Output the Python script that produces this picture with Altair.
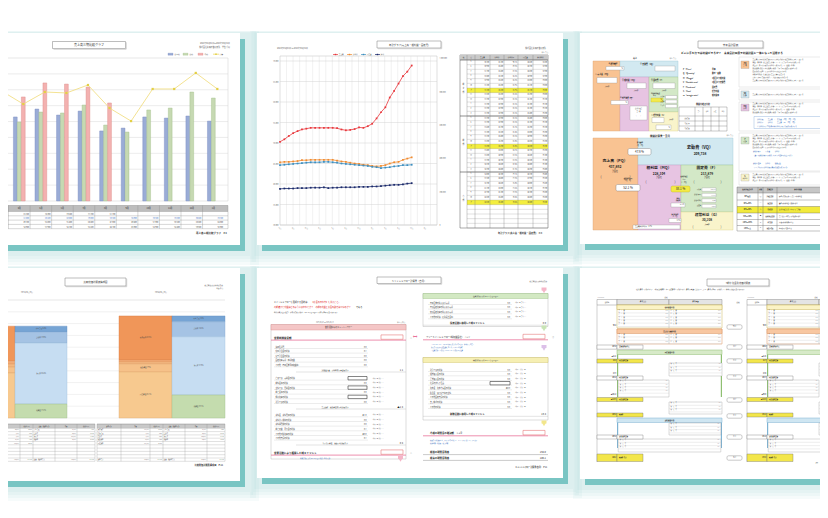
import altair as alt
import pandas as pd

FONT = "Noto Sans CJK JP"

# =====================================================================
# DATA  (values read off the six report thumbnails)
# =====================================================================
# page 1 : 売上高三期比較グラフ  (千円 / 1000)
p1_months = ["3月", "4月", "5月", "6月", "7月", "8月", "9月", "10月", "11月", "12月", "1月"]
p1_current = [78.7, 65.5, 74.3, 73.6, 71.7, 61.7, None, None, None, None, None]
p1_prev = [None, 49.7, 56.0, 55.4, 60.4, 47.8, 43.4, 57.3, 58.5, 68.6, 64.8]
p1_prev2 = [None, 52.9, 57.9, 54.1, 56.6, 44.1, 45.9, 52.9, 52.2, 53.5, 50.3]
p1_target = [69.2, 61.0, 68.6, 68.0, 73.0, 58.5, 50.3, 70.5, 70.5, 80.6, 70.5]
p1_grid = [10, 20, 30, 40, 50, 60, 70, 80]

# page 2 : 年計グラフ (売上高・粗利益・固定費・経常)
p2_sales = [50300, 50900, 51700, 52400, 52900, 53300, 53500, 53700, 53700, 53700, 53700,
            53700, 53700, 53600, 53300, 53100, 53200, 53400, 53800, 53700, 54100, 54700,
            56000, 57500, 58700, 61100, 62700, 64500, 66300, 67400, 68900]
p2_gross = [45300, 45400, 45400, 45500, 45600, 45800, 45800, 45900, 45900, 45900, 45900,
            45900, 45900, 45700, 45500, 45400, 45200, 45000, 44900, 44700, 44600, 44400,
            44300, 44400, 44600, 45000, 45300, 45400, 45900, 46200, 46500]
p2_fixed = [44600, 44700, 44800, 44900, 45000, 45100, 45200, 45300, 45300, 45300, 45400,
            45400, 45300, 45200, 45000, 44900, 44800, 44700, 44600, 44500, 44400, 44200,
            44100, 43900, 44000, 44100, 44300, 44400, 44600, 44600, 44700]
p2_profit = [38800, 38900, 38900, 38900, 39000, 39000, 39000, 39100, 39100, 39100, 39200,
             39000, 39100, 39100, 39200, 39200, 39200, 39200, 39300, 39300, 39300, 39400,
             39400, 39500, 39600, 39700, 39800, 39800, 39900, 40100, 40200]
p2_left_ticks = [30000, 35000, 40000, 45000, 50000, 55000, 60000, 65000, 70000]
p2_right_ticks = [0, 200000, 400000, 600000, 800000, 1000000]
p2_xlabels = ["5月", "8月", "11月", "2月", "5月", "8月", "11月", "2月", "5月", "8月", "11月", "2月"]
p2_sections = ["前々期", "前期", "今期"]
p2_rowlabels = ["5", "6", "7", "8", "9", "10", "計", "11", "12", "1", "2", "3"]

# page 3 : 未来会計図表
p3_pq, p3_vq, p3_mq, p3_f, p3_g = "437,862", "209,758", "228,104", "213,879", "30,208"
p3_vr, p3_mr, p3_bep, p3_gr = "47.9 %", "52.1 %", "88.1 %", "6.9 %"

# page 4 : 比較貸借対照表構成図 (千円)
p4_assets = ["現金預金", "受取手形", "売掛金", "棚卸資産", "固定資産"]
p4_liabs = ["支払手形", "買掛金", "借入金", "純資産"]
p4_prev_assets = [89000, 7500, 7500, 15000, 114500]
p4_prev_liabs = [15000, 28000, 155000, 35500]
p4_cur_assets = [112000, 5000, 5000, 20500, 117000]
p4_cur_liabs = [15000, 38000, 148000, 58500]
p4_grid = [0, 30000, 60000, 90000, 120000, 150000, 180000, 210000, 240000, 270000, 300000]

# page 5 : キャッシュフロー計算書
p5_block1 = ["減価償却費", "貸倒引当金の増減", "賞与引当金の増減", "固定資産売却・除却損益", "その他（有価証券評価損益等）"]
p5_block1_v = ["0.0", "0.1", "0.0", "0.0", "0.0"]
p5_block2 = ["受取手形・売掛金の増減", "前払金等の増減", "支払手形・買掛金の増減", "前受金等の増減", "棚卸資産の増減", "割引手形の増減"]
p5_block2_v = ["", "0.0", "", "0.0", "", "0.0"]
p5_block3 = ["未払金・未払費用の増減", "未払法人税等の増減", "未払消費税の増減", "前受収益・預り金の増減", "その他流動資産の増減", "その他負債の増減"]
p5_block3_v = ["▲1.0", "0.0", "0.0", "0.1", "▲0.0", "0.1"]
p5_inv = ["有価証券の購入及び売却", "有形固定資産の購入及び売却", "無形固定資産の購入及び売却", "その他の増減（保険積立金等）"]
p5_inv_v = ["0.0", "0.0", "0.0", "0.0"]
p5_fin = ["割引手形の増減", "短期借入金の増減", "長期借入金の増減", "社債の発行と償還", "資本金・資本準備金の増減",
          "配当金・役員賞与等の支払", "その他固定負債の増減", "自己株式の増減", "その他の増減"]
p5_fin_v = ["0.0", "0.0", "0.0", "", "▲0.0", "0.0", "0.0", "0.0", "0.0"]
p5_sub = ["1.1", "▲1.4", "0.4"]
p5_totals = ["0.0", "15.4", "164.0", "185.1"]

# page 6 : 7期分 資金別貸借対照表
p6_mid = ["93.2", "13.7", "11.2", "11.2", "13.7", "11.1", "11.1", "16.1"]
p6_left_a = ["94.2", "123.2", "▲11.2", "12.2", "13.3", "125.2", "▲101.2", "▲114.5", "129.2", "129.2", "126.2"]
p6_left_b = ["94.8", "126.2", "▲11.6", "11.3", "13.6", "125.3", "▲99.8", "▲112.0", "131.2", "131.2", "133.0"]

# =====================================================================
# LAYOUT HELPERS  (page pixels -> chart pixels; html page has 8px margin)
# =====================================================================
M = 8
W, H = 812, 502
VIS0, VIS1 = 8.6, 819.4


def S(d0, d1, p0, p1):
    return alt.Scale(domain=[d0, d1], range=[p0 - M, p1 - M], nice=False, zero=False)


def CX():
    return S(8, 820, 8, 820)


def CY():
    return S(8, 510, 8, 510)


rects_bg, rects_fg, rects_top, rounded = [], [], [], []
rules_bg, rules_fg = [], []
texts, tris = [], []


def R(lst, x0, y0, x1, y1, fill="#ffffff", stroke="transparent", sw=0.0, op=1.0):
    lst.append(dict(x=x0, y=y0, x2=x1, y2=y1, fill=fill, stroke=stroke, sw=sw, op=op))


def L(lst, x0, y0, x1, y1, c="#9a9a9a", sw=0.4):
    lst.append(dict(x=x0, y=y0, x2=x1, y2=y1, c=c, sw=sw))


def tw(t, s):
    return sum(s * (0.56 if ord(ch) < 0x2E80 else 1.0) for ch in t)


def T(x, y, t, s=2.0, c="#333333", a="left", b=False):
    w = tw(t, s)
    x0 = x if a == "left" else (x - w / 2 if a == "center" else x - w)
    x1 = x0 + w
    if x1 <= VIS0 or x0 >= VIS1 or x0 < VIS0:
        return
    if x1 > VIS1:
        if a != "left":
            return
        while t and x + tw(t, s) > VIS1:
            t = t[:-1]
        if not t:
            return
    texts.append(dict(x=x, y=y, t=t, s=s, c=c, a=a, b="bold" if b else "normal"))


def TRI(x, y, c, sz=14):
    tris.append(dict(x=x, y=y, c=c, sz=sz))


# ---------------- pages, shadows ----------------
TEAL = "#79c5c3"
pages = [(-30, 33, 240, 245), (257, 33, 563, 245), (580, 33, 860, 244),
         (-30, 268, 240, 481), (257, 268, 563, 478), (580, 268, 860, 479)]
for x0, y0, x1, y1 in pages:
    for e in (14, 11, 8, 5):
        R(rects_bg, x0 - e * 0.5, y0 - e * 0.15, x1 + 5 + e, y1 + 6 + e, TEAL, op=0.07)
for x0, y0, x1, y1 in pages:
    R(rects_bg, x0 + 5, y0 + 6, x1 + 5, y1 + 6, TEAL)
for x0, y0, x1, y1 in pages:
    R(rects_bg, x0, y0, x1, y1, "#ffffff")


def title_box(x0, y0, x1, y1, text, size):
    R(rects_fg, x0, y0, x1, y1, "#ffffff", "#7a7a7a", 0.5)
    L(rules_fg, x0 + 1, y1 + 0.7, x1 + 0.7, y1 + 0.7, "#c4c4c4", 0.8)
    L(rules_fg, x1 + 0.7, y0 + 0.8, x1 + 0.7, y1 + 0.7, "#c4c4c4", 0.8)
    T((x0 + x1) / 2, (y0 + y1) / 2 + 0.2, text, size, "#333333", "center")


# =====================================================================
# PAGE 1  – bar chart
# =====================================================================
BAR_F = {"前々期": "#9aacd6", "前期": "#c6d9b2", "今期": "#f3b1b0"}
BAR_S = {"前々期": "#7689bf", "前期": "#9ebd85", "今期": "#dc8583"}
title_box(52.5, 41.5, 125.5, 48.5, "売上高三期比較グラフ", 3.0)
T(230, 43.6, "2024年04月01日～2025年03月31日", 1.9, "#555555", "right")
T(230, 47.4, "株式会社未来経営研究所　単位:千円", 1.9, "#555555", "right")
lx = 168
for name, kind in [("前々期", "bar"), ("前期", "bar"), ("今期", "bar"), ("目標", "line")]:
    if kind == "bar":
        R(rects_fg, lx, 53.2, lx + 5, 55.2, BAR_F[name], BAR_S[name], 0.3)
    else:
        L(rules_fg, lx, 54.2, lx + 6, 54.2, "#efd963", 0.8)
        R(rects_top, lx + 2.2, 53.4, lx + 3.8, 55.0, "#e3d04a")
    T(lx + 6.5, 54.3, name, 1.7, "#555555")
    lx += 15
R(rects_fg, -30, 58, 228, 201, "#ffffff", "#cfcfcf", 0.5)


def c1(k):
    return 19.3 + 21.56 * (k - 1)


RH1 = 4.3
R(rects_fg, -30, 205.5, 228, 211.5, "#bdbdbd")
L(rules_fg, -30, 205.5, 228, 205.5, "#888888", 0.45)
for r in range(5):
    L(rules_fg, -30, 211.5 + r * RH1, 228, 211.5 + r * RH1, "#8c8c8c", 0.35)
for k in range(12):
    xb = c1(k) - 10.78 if k < 11 else 228
    L(rules_fg, xb, 205.5, xb, 211.5 + 4 * RH1, "#8c8c8c", 0.35)
for k in range(11):
    T(c1(k), 208.6, p1_months[k], 2.0, "#222222", "center")
    for r, v in enumerate([p1_current[k], p1_target[k], p1_prev[k], p1_prev2[k]]):
        if v is not None:
            T(c1(k) + 9.6, 213.7 + RH1 * r, f"{v * 1000:,.0f}", 1.8,
              "#2e63c0" if r == 1 else "#333333", "right")
T(227, 233, "売上高三期比較グラフ　P.1", 2.5, "#333333", "right", True)

# =====================================================================
# PAGE 2  – moving-annual-total line chart + table
# =====================================================================
title_box(377, 41, 441, 48, "年計グラフ(売上高・粗利益・固定費)", 2.4)
T(277, 48.3, "2024年05月01日 ～ 2025年05月31日", 1.9, "#555555")
T(546, 48.3, "株式会社未来経営研究所", 1.9, "#555555", "right")
lx = 333
for name, col in [("売上高", "#e8383d"), ("粗利益", "#f08c32"), ("固定費", "#3d8fc0"), ("経常", "#1b2a6b")]:
    L(rules_fg, lx, 54.5, lx + 5, 54.5, col, 0.7)
    R(rects_top, lx + 1.8, 53.8, lx + 3.2, 55.2, col)
    T(lx + 5.8, 54.6, name, 1.6, "#555555")
    lx += 14
R(rects_fg, 280, 56, 437, 225, "#ffffff", "#bdbdbd", 0.5)
for j in range(1, 24):
    xg = 280 + j * 157 / 24
    L(rules_bg, xg, 56, xg, 225, "#dcdcdc", 0.4)

# table
TX = [460, 467, 475, 490, 504, 518, 533, 548]
RH2 = 56 / 12
R(rects_fg, 460, 55, 548, 228, "#ffffff", "#555555", 0.5)
R(rects_fg, 460, 55, 548, 60, "#c9c9c9")
for s in range(3):
    R(rects_fg, 467, 60 + s * 56 + 6 * RH2, 548, 60 + s * 56 + 7 * RH2, "#f3ee3e")
for r in range(1, 37):
    yy = 60 + r * RH2
    L(rules_fg, 467, yy, 548, yy, "#9a9a9a", 0.3)
for yy in (60, 116, 172):
    L(rules_fg, 460, yy, 548, yy, "#444444", 0.6)
for xx in TX[1:-1]:
    L(rules_fg, xx, 55, xx, 228, "#777777", 0.35)
for xx, name in zip([463.5, 471, 482.5, 497, 511, 525.5, 540.5],
                    ["期", "月", "売上高", "粗利益", "粗利益率", "固定費", "経常利益"]):
    T(xx, 57.6, name, 1.6, "#222222", "center")
T(548, 52.5, "単位:千円", 1.5, "#555555", "right")
di = 0
for s in range(3):
    for ci, ch in enumerate(p2_sections[s]):
        T(463.5, 60 + s * 56 + 24 + ci * 4, ch, 1.8, "#333333", "center")
    for j in range(12):
        yy = 60 + s * 56 + (j + 0.5) * RH2
        if s == 2 and j > 6:
            continue
        T(471, yy, p2_rowlabels[j], 1.6, "#333333", "center")
        ix = di - 1 if j == 6 else di
        vals = [f"{p2_sales[ix]:,}", f"{p2_gross[ix]:,}",
                f"{p2_gross[ix] / p2_sales[ix] * 100:.1f}%", f"{p2_fixed[ix]:,}", f"{p2_profit[ix]:,}"]
        for xx, v in zip(TX[3:], vals):
            T(xx - 0.8, yy, v, 1.55, "#333333", "right")
        if j != 6:
            di += 1
T(542, 232.5, "年計グラフ(売上高・粗利益・固定費)　P.4", 2.3, "#333333", "right", True)

# =====================================================================
# PAGE 3  – 未来会計図表
# =====================================================================
title_box(698, 41, 763, 48, "未来会計図表", 2.6)
T(732, 53, "どこに手を打てば利益がでるか？　未来会計図表で利益計画と一体となって活用する", 2.7, "#222222", "center", True)
T(635, 58.7, "売上", 2.0, "#333333", "center", True)
T(676, 58.7, "単位:千円", 1.5, "#555555", "right")
OR, BL, PK, GR, YL = "#f9c392", "#d2e9f1", "#e7c4e2", "#d3e8c7", "#f9f4cb"
R(rects_fg, 593, 61, 620, 131, OR, "#dca272", 0.4)
R(rects_fg, 620, 61, 678, 77, BL, "#9cc6d6", 0.4)
R(rects_fg, 620, 77, 649, 131, PK, "#c69ac0", 0.4)
R(rects_fg, 649, 77, 678, 112, GR, "#9fc78a", 0.4)
R(rects_fg, 649, 112, 678, 131, YL, "#d8cf8a", 0.4)
T(613, 62.5, "⑧ 変動費率", 1.7, "#222222", "center", True)
T(613, 65, "(VQ÷PQ)", 1.5, "#222222", "center")
R(rects_top, 606, 66.5, 624, 70, "#ffffff", "#888888", 0.3)
T(623, 68.3, "%", 1.5, "#222222", "right")
T(640, 64, "② 変動費（VQ）", 1.9, "#222222", "left", True)
R(rects_top, 655, 66, 675, 71, "#ffffff", "#888888", 0.3)
T(595, 74.5, "① 売上高（PQ）", 1.9, "#222222", "left", True)
R(rects_top, 597, 77.5, 617, 83, "#ffffff", "#888888", 0.3)
T(607, 86.5, "計画値", 1.5, "#333333", "center")
T(622, 80.5, "③ 粗利益（MQ）", 1.8, "#222222", "left", True)
R(rects_top, 627, 83, 646, 88.5, "#ffffff", "#888888", 0.3)
T(636, 91, "計画値", 1.5, "#333333", "center")
T(620, 96.5, "④ 粗利益率（m）", 1.7, "#222222", "left", True)
T(626, 99, "MQ÷PQ", 1.5, "#222222")
R(rects_top, 611, 100.5, 628, 104.5, "#ffffff", "#888888", 0.3)
T(627, 102.5, "%", 1.5, "#222222", "right")
R(rects_top, 630, 106, 647, 120, "#ffffff", "#888888", 0.3)
T(638.5, 109, "損益分岐点", 1.4, "#333333", "center")
T(638.5, 112, "売上高", 1.4, "#333333", "center")
T(638.5, 116, "(　　　)", 1.4, "#333333", "center")
T(651, 80.5, "⑤ 固定費（F）", 1.8, "#222222", "left", True)
R(rects_top, 653, 83, 675, 88.5, "#ffffff", "#888888", 0.3)
T(664, 91, "計画値", 1.5, "#333333", "center")
T(651, 93.5, "⑥損益分岐点", 1.5, "#222222", "left", True)
T(653, 96, "比率", 1.5, "#222222")
R(rects_top, 651, 98, 663, 102, "#f2ea4c", "#b9a92c", 0.3)
T(662, 100, "%", 1.5, "#222222", "right")
for i, name in enumerate(["人件費", "設備費", "その他"]):
    T(664.5, 97 + i * 4.5, name, 1.4, "#333333", "right")
    R(rects_top, 665.5, 95.5 + i * 4.5, 677, 98.7 + i * 4.5, "#ffffff", "#888888", 0.3)
T(651, 115, "⑦ 経常利益（G）", 1.8, "#222222", "left", True)
R(rects_top, 652, 117.5, 664, 122.5, "#ffffff", "#888888", 0.3)
T(671, 120, "計画値", 1.5, "#333333", "center")
R(rects_top, 656, 125, 671, 129.5, "#ffffff", "#888888", 0.3)
T(670, 127.3, "%", 1.5, "#222222", "right")
legend3 = [("P （Price）", "単価"), ("Q （Quantity）", "数量・客数"), ("M （Margin）", "1個当たり粗利益"),
           ("V （Variable cost）", "1個当たり変動費"), ("F （Fixed cost）", "固定費"),
           ("G （Gain）", "経常利益"), ("m （margin ratio）", "粗利益率")]
for i, (a, b_) in enumerate(legend3):
    T(683, 69 + 4.4 * i, a, 1.75, "#222222", "left", True)
    T(712, 69 + 4.4 * i, b_, 1.75, "#222222", "left", True)
T(703, 104.5, "損益分岐点分析", 2.0, "#222222", "center", True)
for xx in [679, 695, 703, 711, 719, 727]:
    L(rules_fg, xx, 107, xx, 131, "#666666", 0.35)
for yy in [107, 116, 121, 126, 131]:
    L(rules_fg, 679, yy, 727, yy, "#666666", 0.35)
for i, name in enumerate(["前期実績", "今期計画", "今期実績"]):
    T(687, 118.5 + 5 * i, name, 1.3, "#333333", "center")
for xx, name in zip([699, 707, 715, 723], ["売上", "粗利", "固定", "利益"]):
    T(xx, 111.5, name, 1.3, "#333333", "center")
# lower diagram
T(660, 136, "損益計算書ー全月", 2.5, "#222222", "center", True)
T(733, 136, "単位:千円", 1.5, "#555555", "right")
R(rects_fg, 593, 138, 638, 230, OR, "#dca272", 0.4)
R(rects_fg, 638, 138, 733, 165, BL, "#9cc6d6", 0.4)
R(rects_fg, 638, 165, 681, 230, PK, "#c69ac0", 0.4)
R(rects_fg, 681, 165, 733, 212, GR, "#9fc78a", 0.4)
R(rects_fg, 681, 212, 733, 230, YL, "#d8cf8a", 0.4)
T(615, 161, "売上高（PQ）", 3.9, "#222222", "center", True)
T(615, 167, p3_pq, 3.3, "#222222", "center", True)
T(615, 171.5, "計画値", 1.9, "#222222", "center")
T(601, 177, "[", 3.2, "#222222", "center")
T(630, 177, "]", 3.2, "#222222", "center")
T(640, 142.5, "変動費率", 1.6, "#222222", "center", True)
T(640, 145.3, "(VQ÷PQ)", 1.5, "#222222", "center")
rounded.append(dict(x=628, y=148.5, x2=651, y2=155, fill="#ffffff", stroke="#777777"))
T(639.5, 151.9, p3_vr, 2.9, "#222222", "center")
T(700, 147.5, "変動費（VQ）", 4.1, "#222222", "center", True)
T(700, 154, p3_vq, 3.3, "#222222", "center", True)
T(659, 168, "粗利益（MQ）", 3.8, "#222222", "center", True)
T(659, 173.5, p3_mq, 3.2, "#222222", "center", True)
T(659, 177.5, "計画値", 1.8, "#222222", "center")
T(646, 182, "[", 3.0, "#222222", "center")
T(675, 182, "]", 3.0, "#222222", "center")
T(628, 178.5, "粗利益率(m)", 1.5, "#222222", "center", True)
T(628, 181.2, "MQ÷PQ", 1.5, "#222222", "center")
rounded.append(dict(x=616, y=184.5, x2=640, y2=191, fill="#ffffff", stroke="#777777"))
T(628, 187.9, p3_mr, 3.1, "#222222", "center")
T(707, 168, "固定費（F）", 3.8, "#222222", "center", True)
T(707, 173.5, p3_f, 3.2, "#222222", "center", True)
T(707, 177.5, "計画値", 1.8, "#222222", "center")
T(694, 182, "[", 3.0, "#222222", "center")
T(721, 182, "]", 3.0, "#222222", "center")
T(684, 177, "損益分岐点", 1.4, "#222222", "center", True)
T(684, 179.6, "比率", 1.4, "#222222", "center")
T(684, 182.2, "(F÷MQ)", 1.4, "#222222", "center")
rounded.append(dict(x=671, y=186, x2=690, y2=192, fill="#f3ea45", stroke="#c0b02c"))
T(680.5, 189.1, p3_bep, 3.0, "#222222", "center")
for i, (name, val) in enumerate([("人件費", "134,000"), ("労働分配率", "57.3 %"), ("労働生産性", "1,398"), ("設備費", "79,879")]):
    T(701, 189.5 + 5.5 * i, name, 1.4, "#222222", "right")
    R(rects_top, 702, 187.8 + 5.5 * i, 716, 191.3 + 5.5 * i, "#ffffff", "#888888", 0.3)
    T(715.5, 189.6 + 5.5 * i, val, 1.3, "#222222", "right")
T(678, 198.5, "労働", 1.5, "#222222", "center", True)
T(678, 201, "分配率", 1.5, "#222222", "center", True)
R(rects_top, 671, 203, 685, 207, "#ffffff", "#888888", 0.3)
T(684, 205, "57.3%", 1.4, "#222222", "right")
T(707, 215, "経常利益（G）", 3.6, "#222222", "center", True)
T(707, 219.8, p3_g, 3.1, "#222222", "center", True)
T(707, 223.5, "計画値", 1.7, "#222222", "center")
T(693, 227, "[", 2.8, "#222222", "center")
T(721, 227, "]", 2.8, "#222222", "center")
T(675, 214.5, "経常利益率", 1.4, "#222222", "center", True)
T(675, 217, "(G÷PQ)", 1.4, "#222222", "center")
R(rects_top, 669, 218.5, 681, 222.5, "#ffffff", "#888888", 0.3)
T(680.5, 220.5, p3_gr, 1.5, "#222222", "right")
R(rects_top, 633, 225, 680, 229, "#ffffff", "#888888", 0.3)
T(635, 227, "売上高経常利益率　6.9%", 1.5, "#222222")
# right column
sections3 = [((57, 87), (61, 68.5), OR, "PQ", "売上高", [60, 63, 66, 69, 72, 75, 78, 81]),
             ((89, 100), (91, 98), BL, "VQ", "変動費", [94.5]),
             ((102, 131), (104, 111), PK, "MQ", "粗利益", [104, 107, 110, 113]),
             ((133, 171), (137, 144), GR, "F", "固定費", [136, 139, 142, 145, 148]),
             ((172, 185), (174, 181), YL, "G", "経常利益", [175, 178, 181])]
lines3 = ["・売上高の計画は前期実績をもとに市場の動向と販売戦略を反映して立てる",
          "・客数、客単価、購買頻度に分解して、どこに手を打つかを明確にする",
          "・値上げ、値下げの影響を粗利益で確認すること（数量×単価）",
          "・新規顧客の獲得と既存顧客の維持、それぞれの施策を具体化する",
          "・商品構成の見直しにより粗利益率の向上をはかる",
          "・営業担当者別、得意先別の売上目標を設定する",
          "・月次で計画と実績を比較し、差異の原因を分析する"]
for (y0, y1), (b0, b1), col, lab, sub, ys in sections3:
    R(rects_fg, 739, y0, 840, y1, "#ffffff", "#c9c9c9", 0.4)
    R(rects_fg, 741, b0, 749, b1, col, "#999999", 0.3)
    T(745, b0 + 2.4, lab, 1.9, "#222222", "center", True)
    T(745, b0 + 5.3, sub, 1.2, "#222222", "center")
    for i, yy in enumerate(ys):
        T(751, yy, lines3[i % len(lines3)], 1.55, "#444444")
R(rects_fg, 754, 116.5, 840, 128.5, "#ffffff", "#7fa7d6", 0.4)
for yy, t in [(119.5, "粗利益額　＝　売上高　－　変動費　（MQ ＝ PQ － VQ）"),
              (123, "粗利益率　＝　粗利益　÷　売上高　（m ＝ MQ ÷ PQ）"),
              (126.3, "※ 粗利益率の1%改善が経常利益に与える影響を確認する")]:
    T(757, yy, t, 1.55, "#2d5fb8")
for yy, t in [(152, "労働分配率　＝　人件費　÷　粗利益"),
              (155.5, "（適正な労働分配率を維持しながら生産性を向上させる）"),
              (164, "労働生産性　＝　粗利益　÷　従業員数"),
              (167.5, "（一人当たりの粗利益額を高める施策を検討する）")]:
    T(753, yy, t, 1.55, "#2d5fb8")
R(rects_fg, 737, 187, 840, 193, "#c6c6c6")
R(rects_fg, 737, 206.5, 840, 213, "#f2ea3c")
for yy in [187, 193, 200, 206.5, 213, 219.5, 225.5, 231]:
    L(rules_fg, 737, yy, 840, yy, "#666666", 0.4)
for xx in [737, 758, 763, 777]:
    L(rules_fg, xx, 187, xx, 231, "#666666", 0.4)
for xx, t in [(747.5, "損益分岐点比率"), (760.5, "評価"), (770, "企業区分"), (798, "経営の状態")]:
    T(xx, 190, t, 1.5, "#222222", "center", True)
bep_rows = [("60%未満", "◎", "超優良企業", "景気の変動に強い安定した経営状態"),
            ("60%〜80%", "○", "優良企業", "健全な経営状態で余裕がある"),
            ("80%〜90%", "△", "普通企業", "損益分岐点に近づかないよう注意"),
            ("90%〜100%", "▲", "損益分岐点企業", "売上減少で赤字になる危険がある"),
            ("100%〜105%", "×", "赤字企業", "早急な経営改善が必要"),
            ("105%以上", "×", "倒産予備軍", "抜本的な対策が必要")]
for i, (a, b_, c_, d_) in enumerate(bep_rows):
    yy = [196.5, 203.3, 209.8, 216.3, 222.5, 228.3][i]
    T(747.5, yy, a, 1.45, "#222222", "center", True)
    T(760.5, yy, b_, 1.6, "#222222", "center", True)
    T(770, yy, c_, 1.3, "#222222", "center", True)
    T(779, yy, d_, 1.45, "#222222")

# =====================================================================
# PAGE 4  – stacked composition blocks + tables
# =====================================================================
title_box(65, 278, 126, 286, "比較貸借対照表構成図", 2.4)
T(223, 284.5, "株式会社未来経営研究所", 1.7, "#555555", "right")
T(223, 288.5, "単位:千円", 1.6, "#555555", "right")
T(27, 293, "2023年04月30日", 1.6, "#555555", "center")
T(161, 293, "2024年04月30日", 1.6, "#555555", "center")
L(rules_bg, -30, 300, 225, 300, "#e6e6e6", 0.5)
ACOL = ["#f09659", "#f3ac76", "#f5b982", "#f6c189", "#f7c98f"]
ASTR = ["#d87a3e", "#d98c55", "#dc9a63", "#dca069", "#dca66f"]
LCOL = ["#76a4d4", "#a5c3e4", "#c6ddf2", "#c4dcae"]
LSTR = ["#5f8dbf", "#85a8cf", "#9fc0dd", "#9fbe88"]
T4 = [(-33, [0, 24, 53, 66, 88, 110, 128]), (97, [0, 24, 53, 66, 88, 110, 128])]
RH4 = 3.3
for (tx, cols), assets, liabs in zip(T4, [p4_prev_assets, p4_cur_assets], [p4_prev_liabs, p4_cur_liabs]):
    x = [tx + c for c in cols]
    R(rects_fg, x[0], 424, x[-1], 428.3, "#c9c9c9")
    for r in range(11):
        L(rules_fg, x[0], 428.3 + r * RH4, x[-1], 428.3 + r * RH4, "#9a9a9a", 0.3)
    L(rules_fg, x[0], 424, x[-1], 424, "#777777", 0.4)
    for xx in x:
        L(rules_fg, xx, 424, xx, 428.3 + 10 * RH4, "#8a8a8a", 0.3)
    for xx, t in zip([(x[0] + x[1]) / 2, (x[1] + x[2]) / 2, (x[2] + x[3]) / 2,
                      (x[3] + x[4]) / 2, (x[4] + x[5]) / 2, (x[5] + x[6]) / 2],
                     ["資産の部", "金額", "構成比(%)", "負債・純資産の部", "金額", "構成比(%)"]):
        T(xx, 426.2, t, 1.35, "#222222", "center")
    ta, tl = sum(assets), sum(liabs)
    for i, (n, v) in enumerate(zip(p4_assets, assets)):
        yy = 430 + i * RH4
        T(x[0] + 1, yy, n, 1.35, "#222222")
        T(x[2] - 1, yy, f"{v:,}", 1.35, "#222222", "right")
        T(x[3] - 1, yy, f"{v / ta * 100:.1f}%", 1.35, "#222222", "right")
    for i, (n, v) in enumerate(zip(p4_liabs, liabs)):
        yy = 430 + i * RH4
        T(x[3] + 1, yy, n, 1.35, "#222222")
        T(x[5] - 1, yy, f"{v:,}", 1.35, "#222222", "right")
        T(x[6] - 1, yy, f"{v / tl * 100:.1f}%", 1.35, "#222222", "right")
    yy = 430 + 9 * RH4
    T(x[0] + 1, yy, "資産合計", 1.35, "#222222")
    T(x[2] - 1, yy, f"{ta:,}", 1.35, "#222222", "right")
    T(x[3] - 1, yy, "100.0%", 1.35, "#222222", "right")
    T(x[3] + 1, yy, "負債・純資産合計", 1.35, "#222222")
    T(x[5] - 1, yy, f"{tl:,}", 1.35, "#222222", "right")
    T(x[6] - 1, yy, "100.0%", 1.35, "#222222", "right")
T(223, 464.5, "比較貸借対照表構成図　P.11", 2.2, "#333333", "right", True)

# =====================================================================
# PAGE 5  – cash-flow statement
# =====================================================================
title_box(377, 277, 441, 283.5, "キャッシュフロー計算書（自月）", 2.3)
T(547, 282, "株式会社未来経営研究所", 1.6, "#555555", "right")
T(274, 302, "キャッシュフローを理解する目的は、", 2.1, "#222222")
T(311.5, 302, "【お金の流れ方】を学ぶこと。", 2.1, "#e02020")
T(274, 307.5, "今期儲けた利益はどのように使われたか？　今期の利益とお金の動きは何なのか？", 2.1, "#e02020")
T(356, 307.5, "である", 2.1, "#222222")
T(274, 312.5, "利益は会計上の数字、お金は実際の動き。キャッシュフローでお金の流れを読み取ります", 1.6, "#333333")
T(325, 322.3, "2024/05/01 ～ 2025/05/31", 1.5, "#555555", "center")
T(405, 322.3, "単位:百万円", 1.5, "#555555", "right")
R(rects_fg, 271, 324.5, 406, 459, "#ffffff", "#a8a8a8", 0.4)
R(rects_fg, 271, 324.5, 406, 330, "#f4c6c6", "#d98c8c", 0.4)
T(338.5, 327.4, "営業活動によるキャッシュフロー", 1.8, "#333333", "center")
PINK = "#e8739a"
for yy, label, circ in [(337.5, "営業純損益金額", "①"), (452.5, "営業活動により獲得した純キャッシュ", "①")]:
    T(274, yy, label, 2.5, "#222222", "left", True)
    L(rules_fg, 271, yy + 2.6, 406, yy + 2.6, PINK, 0.8)
    R(rects_top, 381, yy - 2.6, 403, yy + 1.8, "#ffffff", "#e06060", 0.5)
    T(411, yy, circ, 2.2, "#555555", "center")
for blk, vals, ys in [(p5_block1, p5_block1_v, [346.7, 351.3, 355.7, 360.3, 365]),
                      (p5_block2, p5_block2_v, [378.3, 383, 387.7, 392.3, 397, 401.7]),
                      (p5_block3, p5_block3_v, [415, 419.7, 424.3, 429, 433.7, 438.3])]:
    for name, v, yy in zip(blk, vals, ys):
        T(275.5, yy, name, 1.75, "#333333")
        L(rules_fg, 274, yy + 1.8, 368, yy + 1.8, "#c8c8c8", 0.35)
        if v:
            T(366.5, yy, v, 1.75, "#333333", "right")
        else:
            R(rects_top, 348, yy - 1.8, 367, yy + 1.6, "#ffffff", "#333333", 0.6)
        if blk is not p5_block1:
            T(372.5, yy, "(増加→▲ 減少→+)", 1.3, "#555555")
for yy, label, v in [(370, "減価償却費・引当金等の調整額合計", p5_sub[0]),
                     (407, "売上債権・棚卸資産等の増減額合計", p5_sub[1]),
                     (443, "その他の資産・負債の増減額合計", p5_sub[2])]:
    T(335, yy, label, 1.7, "#333333", "center")
    T(403, yy, v, 2.4, "#222222", "right")
    L(rules_fg, 296, yy + 2, 406, yy + 2, "#b0b0b0", 0.35)
T(300, 458.3, "営業活動によるキャッシュの増減（利益の質）", 1.5, "#2d5fb8")
# right side
R(rects_fg, 423, 293.5, 548, 326.5, "#ffffff", "#a8a8a8", 0.4)
R(rects_fg, 423, 293.5, 548, 298.5, "#d3e9c3", "#93bd78", 0.4)
T(485.5, 296.1, "投資活動によるキャッシュフロー", 1.7, "#333333", "center")
for name, v, yy in zip(p5_inv, p5_inv_v, [302.7, 307.3, 312, 317]):
    T(430, yy, name, 1.75, "#333333")
    T(510, yy, v, 1.75, "#333333", "right")
    T(515, yy, "(増加→▲ 売却→+)", 1.3, "#555555")
    L(rules_fg, 428, yy + 1.8, 512, yy + 1.8, "#c8c8c8", 0.35)
T(450, 323, "投資活動に使用した純キャッシュ", 2.3, "#222222", "left", True)
T(546, 323, p5_totals[0], 2.4, "#222222", "right")
L(rules_fg, 423, 325.2, 548, 325.2, "#b0b0b0", 0.35)
T(415, 337, "⟷", 3.2, PINK, "center")
T(426, 337, "フリーキャッシュフロー(純損益会社)　①+②", 2.2, "#222222")
L(rules_fg, 423, 339.8, 548, 339.8, PINK, 0.8)
R(rects_top, 523, 334.3, 545, 338.8, "#ffffff", "#e06060", 0.5)
T(553, 337, "③", 2.2, "#555555", "center")
for yy, t in [(344.6, "フリーキャッシュフローが自由に使えるお金を表す（経営の安全度）"),
              (347.8, "借入金の返済や設備投資に充てることができる資金"),
              (351, "「投資活動」で使用したキャッシュは将来への投資")]:
    T(431, yy, t, 1.4, "#2d5fb8")
R(rects_fg, 423, 357.5, 548, 420, "#ffffff", "#a8a8a8", 0.4)
R(rects_fg, 423, 357.5, 548, 362.5, "#f6efb3", "#cdbd59", 0.4)
T(485.5, 360.1, "財務活動によるキャッシュフロー", 1.7, "#333333", "center")
for name, v, yy in zip(p5_fin, p5_fin_v, [369.7, 374, 378.7, 383.3, 388, 392.7, 397.3, 402, 406.7]):
    T(430, yy, name, 1.75, "#333333")
    if v:
        T(510, yy, v, 1.75, "#333333", "right")
    else:
        R(rects_top, 490, yy - 1.8, 510, yy + 1.6, "#ffffff", "#333333", 0.6)
    T(515, yy, "(増加→+ 減少→▲)", 1.3, "#555555")
    L(rules_fg, 428, yy + 1.8, 512, yy + 1.8, "#c8c8c8", 0.35)
T(450, 414, "財務活動に使用した純キャッシュ", 2.3, "#222222", "left", True)
T(546, 414, p5_totals[1], 2.4, "#222222", "right")
L(rules_fg, 423, 416.3, 548, 416.3, "#b0b0b0", 0.35)
T(430, 433, "今期の現預金の増減額　①+②", 2.4, "#222222", "left", True)
L(rules_fg, 423, 435.8, 548, 435.8, PINK, 0.8)
R(rects_top, 523, 430.4, 545, 434.9, "#ffffff", "#e06060", 0.5)
T(430, 440.7, "現預金の増減額がプラスならお金が増えた、マイナスなら減ったことを表す", 1.4, "#2d5fb8")
T(430, 443.7, "期首残高＋増減額＝期末残高", 1.4, "#2d5fb8")
T(430, 452, "期首の現預金残高", 2.4, "#222222", "left", True)
T(546, 452, p5_totals[2], 2.5, "#222222", "right")
L(rules_fg, 423, 454.6, 548, 454.6, "#b5b5b5", 0.7)
T(430, 457.8, "期末の現預金残高", 2.4, "#222222", "left", True)
T(546, 457.8, p5_totals[3], 2.5, "#222222", "right")
L(rules_fg, 423, 460.4, 548, 460.4, "#b5b5b5", 0.7)
T(547, 467.5, "キャッシュフロー計算書(自月)　P.11", 1.9, "#333333", "right", True)
for xx, yy, col in [(544, 290.5, "#f5b6c8"), (544, 328.5, "#c8e4b5"), (544, 348, "#dcc0e8"),
                    (544, 423.5, "#f2e68c"), (400.5, 459, "#f5b6c8")]:
    R(rects_top, xx - 2.5, yy - 3, xx + 2.5, yy, col)
    TRI(xx, yy + 1, col, 16)

# =====================================================================
# PAGE 6  – 7期分 資金別貸借対照表
# =====================================================================
title_box(707, 279, 769, 286, "7期分 資金別貸借対照表", 2.3)
T(635, 289.5, "「損益資金」の動きから、「増加運転資金」や「設備資金」の動きなど、資金の調達と運用のバランス（資金の流れ）を比較して、経営の課題を読み取ります", 1.55, "#333333")


def p6_block(dx, vals):
    X0, X1, X2, X3 = 597 + dx, 617 + dx, 669 + dx, 722 + dx
    T(X0 + 0.5, 297.3, "2024/04/30", 1.3, "#444444")
    T(X2 - 3, 297.3, "前期", 1.5, "#333333", "center")
    R(rects_fg, X0, 299.5, X1, 305, "#ffffff", "#777777", 0.4)
    R(rects_fg, X1, 299.5, X2, 305, "#e4e4e4", "#777777", 0.4)
    R(rects_fg, X2, 299.5, X3, 305, "#e4e4e4", "#777777", 0.4)
    T((X0 + X1) / 2, 302.3, "前年比", 1.5, "#222222", "center")
    T((X1 + X2) / 2, 302.3, "資金運用", 1.6, "#222222", "center")
    T((X2 + X3) / 2, 302.3, "資金調達", 1.6, "#222222", "center")
    L(rules_fg, X0, 305, X0, 462, "#888888", 0.4)
    sec = [(305, 328, "#fbf3c6", "#c9b55a", "損益資金の部"),
           (329, 344, "#f8c7a1", "#d9925e", "売上仕入債務の部")]
    for y0, y1, f, s, name in sec:
        R(rects_fg, X1, y0, X3, y1, "#ffffff", s, 0.5)
        R(rects_fg, X1, y0, X3, y0 + 4.5, f, s, 0.5)
        T((X1 + X3) / 2, y0 + 2.4, name, 1.6, "#222222", "center", True)
        L(rules_fg, X2, y0 + 4.5, X2, y1, "#999999", 0.35)
        n = int((y1 - y0 - 4.5) / 3.4)
        for r in range(1, n + 1):
            yy = y0 + 4.5 + r * 3.4
            L(rules_fg, X1 + 1, yy, X3 - 1, yy, "#c4c4c4", 0.3)
            T(X1 + 1.5, yy - 1.6, "売　上　高", 1.25, "#333333")
            T(X2 - 1, yy - 1.6, "12.5", 1.25, "#333333", "right")
            T(X2 + 1.5, yy - 1.6, "仕　入　高", 1.25, "#333333")
            T(X3 - 1.5, yy - 1.6, "10.3", 1.25, "#333333", "right")
    for y0, y1, f, s, name in [(350, 397, "#d7eac8", "#8fbf72", "固定資金の部"),
                               (418, 448, "#cfe6f2", "#7fb3d3", "運転資金の部")]:
        R(rects_fg, X1, y0, X3, y0 + 4.5, f, s, 0.5)
        T((X1 + X3) / 2, y0 + 2.4, name, 1.6, "#222222", "center", True)
        R(rects_fg, X1, y0 + 4.5, X1 + 1.2, y1, s)
        R(rects_fg, X3 - 1.2, y0 + 4.5, X3, y1, s)
    for xa, xb, y0, y1 in [(X2, X3, 363, 376), (X1 + 1.2, X2, 380, 397), (X2, X3, 402, 414),
                           (X2, X3 - 1.2, 423, 435), (X1 + 1.2, X3 - 1.2, 439, 452)]:
        R(rects_fg, xa, y0, xb, y1, "#ffffff", "#9a9a9a", 0.35)
        yy = y0 + 3.3
        while yy < y1 - 0.5:
            L(rules_fg, xa, yy, xb, yy, "#c4c4c4", 0.3)
            T(xa + 1.5, yy - 1.6, "借　入　金", 1.25, "#333333")
            T(xb - 1.5, yy - 1.6, "3.2", 1.25, "#333333", "right")
            yy += 3.3
    cells = [(345, 349.2, "#ffffff", "差額 資金過不足"), (359, 363, "#f3e64a", "固定 資金差額"),
             (376, 380, "#ffffff", "固定 資金差額"), (397.5, 401.5, "#f3e64a", "固定 資金差額"),
             (413, 417, "#f3e64a", "現預金"), (435, 439, "#ffffff", "運転 資金差額"),
             (454, 461.5, "#f3e64a", "現預金 合計")]
    for i, (y0, y1, f, lab) in enumerate(cells):
        R(rects_top, X0, y0, X1, y1, f, "#777777", 0.4)
        R(rects_top, X1, y0, X1 + 26, y1, f, "#777777", 0.4)
        T(X1 + 2, (y0 + y1) / 2, lab, 1.45, "#222222", "left", True)
        T(X1 - 1, (y0 + y1) / 2, vals[[1, 3, 5, 7, 8, 9, 10][i]], 1.45, "#222222", "right", True)
    for yy, vi in [(326, 0), (356.5, 2), (373.5, 4), (394.5, 6)]:
        T(X1 - 1, yy, vals[vi], 1.45, "#222222", "right", True)


p6_block(0, p6_left_a)
p6_block(150, p6_left_b)
for v, yy in zip(p6_mid, [327, 347, 361, 377, 400, 416, 437, 458]):
    rounded.append(dict(x=727, y=yy - 2.2, x2=742, y2=yy + 2.2, fill="#ffffff", stroke="#777777"))
    T(734.5, yy, v, 1.6, "#222222", "center")
T(738, 303, "前期", 1.6, "#333333", "center")
T(818, 463.5, "P.9", 1.6, "#333333", "right")

# =====================================================================
# LAYER BUILDERS
# =====================================================================


def rect_layer(rows, **kw):
    df = pd.DataFrame(rows)
    return alt.Chart(df).mark_rect(clip=True, **kw).encode(
        x=alt.X("x:Q", scale=CX(), axis=None), x2="x2:Q",
        y=alt.Y("y:Q", scale=CY(), axis=None), y2="y2:Q",
        fill=alt.Fill("fill:N", scale=None),
        stroke=alt.Stroke("stroke:N", scale=None),
        strokeWidth=alt.StrokeWidth("sw:Q", scale=None),
        opacity=alt.Opacity("op:Q", scale=None))


def rule_layer(rows):
    df = pd.DataFrame(rows)
    return alt.Chart(df).mark_rule(clip=True).encode(
        x=alt.X("x:Q", scale=CX(), axis=None), x2="x2:Q",
        y=alt.Y("y:Q", scale=CY(), axis=None), y2="y2:Q",
        color=alt.Color("c:N", scale=None),
        strokeWidth=alt.StrokeWidth("sw:Q", scale=None))


def text_layers(rows):
    df = pd.DataFrame(rows)
    out = []
    for a in ["left", "center", "right"]:
        for b in ["normal", "bold"]:
            sub = df[(df.a == a) & (df.b == b)].reset_index(drop=True)
            if len(sub) == 0:
                continue
            out.append(alt.Chart(sub).mark_text(align=a, baseline="middle", font=FONT,
                                                fontWeight=b, clip=True).encode(
                x=alt.X("x:Q", scale=CX(), axis=None),
                y=alt.Y("y:Q", scale=CY(), axis=None),
                text="t:N",
                size=alt.Size("s:Q", scale=None),
                color=alt.Color("c:N", scale=None)))
    return out


# ---------------- page 1 data layers ----------------
p1X = lambda: S(0, 10, c1(0), c1(10))
p1Y = lambda: S(0, 90, 201, 58)
g1 = pd.DataFrame({"g": p1_grid, "xa": -30, "xb": 228})
grid1 = alt.Chart(g1).mark_rule(color="#d4d4d4", strokeWidth=0.45, clip=True).encode(
    x=alt.X("xa:Q", scale=CX(), axis=None), x2="xb:Q",
    y=alt.Y("g:Q", scale=p1Y(), axis=None))
brows = []
HALF = 0.088
for name, vals, off in [("前々期", p1_prev2, -0.185), ("前期", p1_prev, 0.0), ("今期", p1_current, 0.185)]:
    for k, v in enumerate(vals):
        if v is not None:
            brows.append(dict(xa=k + off - HALF, xb=k + off + HALF, v=v, base=0,
                              f=BAR_F[name], s=BAR_S[name]))
bars1 = alt.Chart(pd.DataFrame(brows)).mark_rect(clip=True, strokeWidth=0.4).encode(
    x=alt.X("xa:Q", scale=p1X(), axis=None), x2="xb:Q",
    y=alt.Y("v:Q", scale=p1Y(), axis=None), y2="base:Q",
    fill=alt.Fill("f:N", scale=None), stroke=alt.Stroke("s:N", scale=None))
tdf = pd.DataFrame({"xp": [k + 0.185 for k in range(11)], "v": p1_target})
tline = alt.Chart(tdf).mark_line(color="#f2df86", strokeWidth=0.9, clip=True).encode(
    x=alt.X("xp:Q", scale=p1X(), axis=None), y=alt.Y("v:Q", scale=p1Y(), axis=None))
tpts = alt.Chart(tdf).mark_point(shape="square", filled=True, size=5, color="#e3cf45",
                                 opacity=1, clip=True).encode(
    x=alt.X("xp:Q", scale=p1X(), axis=None), y=alt.Y("v:Q", scale=p1Y(), axis=None))

# ---------------- page 2 data layers ----------------
p2X = lambda: S(0, 30, 280, 280 + 4.39 * 30)
p2Y = lambda: S(30000, 70000, 225, 61)
p2YR = lambda: S(0, 1000000, 225, 58.3)
g2 = pd.DataFrame({"g": p2_left_ticks, "xa": 280, "xb": 437, "xl": 278.5,
                   "lab": [f"{v:,}" for v in p2_left_ticks]})
grid2 = alt.Chart(g2).mark_rule(color="#d0d0d0", strokeWidth=0.45, clip=True).encode(
    x=alt.X("xa:Q", scale=CX(), axis=None), x2="xb:Q",
    y=alt.Y("g:Q", scale=p2Y(), axis=None))
lab2 = alt.Chart(g2).mark_text(align="right", baseline="middle", font=FONT, fontSize=1.7,
                               color="#555555", clip=True).encode(
    x=alt.X("xl:Q", scale=CX(), axis=None), y=alt.Y("g:Q", scale=p2Y(), axis=None), text="lab:N")
g2r = pd.DataFrame({"g": p2_right_ticks, "xl": 439.5, "lab": [f"{v:,}" for v in p2_right_ticks]})
lab2r = alt.Chart(g2r).mark_text(align="left", baseline="middle", font=FONT, fontSize=1.7,
                                 color="#555555", clip=True).encode(
    x=alt.X("xl:Q", scale=CX(), axis=None), y=alt.Y("g:Q", scale=p2YR(), axis=None), text="lab:N")
g2x = pd.DataFrame({"i": [3 * j for j in range(12)], "yl": 228.8, "lab": p2_xlabels})
lab2x = alt.Chart(g2x).mark_text(align="center", baseline="middle", font=FONT, fontSize=1.6,
                                 color="#555555", clip=True).encode(
    x=alt.X("i:Q", scale=p2X(), axis=None), y=alt.Y("yl:Q", scale=CY(), axis=None), text="lab:N")
lrows = []
for name, vals, col in [("売上高", p2_sales, "#e8383d"), ("粗利益", p2_gross, "#f08c32"),
                        ("固定費", p2_fixed, "#3d8fc0"), ("経常", p2_profit, "#1b2a6b")]:
    for i, v in enumerate(vals):
        lrows.append(dict(i=i, v=v, name=name, col=col))
ldf = pd.DataFrame(lrows)
lines2 = alt.Chart(ldf).mark_line(strokeWidth=0.8, clip=True).encode(
    x=alt.X("i:Q", scale=p2X(), axis=None), y=alt.Y("v:Q", scale=p2Y(), axis=None),
    color=alt.Color("col:N", scale=None), detail="name:N")
pts2 = alt.Chart(ldf).mark_point(shape="square", filled=True, size=3, opacity=1, clip=True).encode(
    x=alt.X("i:Q", scale=p2X(), axis=None), y=alt.Y("v:Q", scale=p2Y(), axis=None),
    color=alt.Color("col:N", scale=None))

# ---------------- page 4 data layers ----------------
p4Y = lambda: S(0, 300000, 418, 300)
g4 = pd.DataFrame({"g": p4_grid, "xa": -30, "xb": 225})
grid4 = alt.Chart(g4).mark_rule(color="#e2e2e2", strokeWidth=0.5, clip=True).encode(
    x=alt.X("xa:Q", scale=CX(), axis=None), x2="xb:Q",
    y=alt.Y("g:Q", scale=p4Y(), axis=None))
srows = []
for (xa, xb, xc), assets, liabs in [((-38, 15, 67), p4_prev_assets, p4_prev_liabs),
                                     ((119, 172, 225), p4_cur_assets, p4_cur_liabs)]:
    for names, vals, cols, strs, x0, x1 in [(p4_assets, assets, ACOL, ASTR, xa, xb),
                                            (p4_liabs, liabs, LCOL, LSTR, xb, xc)]:
        tot = sum(vals)
        top = tot
        for n, v, c, s in zip(names, vals, cols, strs):
            show = v / tot > 0.04 and x0 > 0
            srows.append(dict(x0=x0, x1=x1, y0=top - v, y1=top, ym=top - v / 2, xm=(x0 + x1) / 2,
                              f=c, s=s, lab=f"{n} {v / tot * 100:.1f}%" if show else ""))
            top -= v
sdf = pd.DataFrame(srows)
stacks4 = alt.Chart(sdf).mark_rect(clip=True, strokeWidth=0.4).encode(
    x=alt.X("x0:Q", scale=CX(), axis=None), x2="x1:Q",
    y=alt.Y("y0:Q", scale=p4Y(), axis=None), y2="y1:Q",
    fill=alt.Fill("f:N", scale=None), stroke=alt.Stroke("s:N", scale=None))
slabs4 = alt.Chart(sdf[sdf.lab != ""]).mark_text(font=FONT, fontSize=1.6, color="#444444",
                                                   clip=True).encode(
    x=alt.X("xm:Q", scale=CX(), axis=None), y=alt.Y("ym:Q", scale=p4Y(), axis=None), text="lab:N")

# ---------------- triangles / rounded ----------------
tri_layer = alt.Chart(pd.DataFrame(tris)).mark_point(shape="triangle-down", filled=True, opacity=1,
                                                    clip=True).encode(
    x=alt.X("x:Q", scale=CX(), axis=None), y=alt.Y("y:Q", scale=CY(), axis=None),
    size=alt.Size("sz:Q", scale=None), color=alt.Color("c:N", scale=None))
rdf = pd.DataFrame(rounded)
round_layer = alt.Chart(rdf).mark_rect(cornerRadius=1.5, strokeWidth=0.4, clip=True).encode(
    x=alt.X("x:Q", scale=CX(), axis=None), x2="x2:Q",
    y=alt.Y("y:Q", scale=CY(), axis=None), y2="y2:Q",
    fill=alt.Fill("fill:N", scale=None), stroke=alt.Stroke("stroke:N", scale=None))

layers = [rect_layer(rects_bg), rect_layer(rects_fg), rule_layer(rules_bg),
          grid1, grid2, grid4, stacks4, bars1, tline, tpts, lines2, pts2,
          rule_layer(rules_fg), rect_layer(rects_top), round_layer, tri_layer,
          lab2, lab2r, lab2x, slabs4] + text_layers(texts)

chart = alt.layer(*layers).resolve_scale(x="independent", y="independent").properties(
    width=W, height=H, padding=0, autosize=alt.AutoSizeParams(type="none"),
    background="#ffffff").configure_view(stroke=None)

chart.save("out.html", embed_options={"renderer": "svg", "actions": False})
